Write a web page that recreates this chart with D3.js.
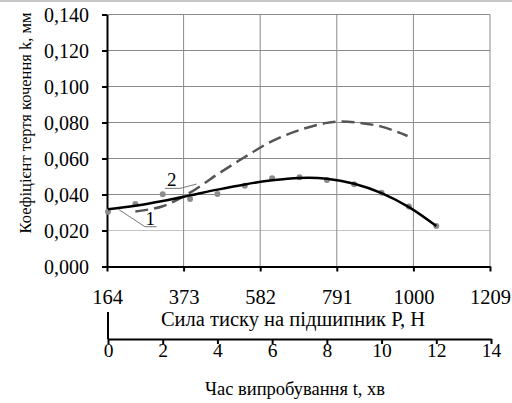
<!DOCTYPE html>
<html>
<head>
<meta charset="utf-8">
<script src="https://cdn.jsdelivr.net/npm/d3@7"></script>
<style>
  body { margin: 0; background: #fff; }
  svg { display: block; }
</style>
</head>
<body>
<script>
// data
const pTicks = [164, 373, 582, 791, 1000, 1209];
const tTicks = [0, 2, 4, 6, 8, 10, 12, 14];
const kTicks = [0, 0.02, 0.04, 0.06, 0.08, 0.10, 0.12, 0.14];

// measured points (time, min)
const pointT = [0, 1, 2, 3, 4, 5, 6, 7, 8, 9, 10, 11, 12];
const pointK = [0.0304, 0.0347, 0.0401, 0.0375, 0.0403, 0.0449, 0.0490, 0.0496, 0.0480, 0.0457, 0.0410, 0.0334, 0.0225];

// curve 1 (solid)
const curve1T = [0, 1, 2, 3, 4, 5, 6, 7, 8, 9, 10, 11, 12];
const curve1K = [0.0318, 0.0337, 0.0364, 0.0395, 0.0427, 0.0456, 0.0479, 0.0492, 0.0488, 0.0460, 0.0408, 0.0330, 0.0225];

// curve 2 (dashed)
const curve2T = [1, 2, 3, 4, 5, 6, 7, 8, 8.5, 9, 10, 10.95];
const curve2K = [0.0305, 0.0335, 0.0410, 0.0512, 0.0608, 0.0697, 0.0758, 0.0798, 0.0805, 0.0801, 0.0777, 0.0725];

const labelText = ["1", "2"];
const yTitle = "Коефіцієнт тертя кочення k, мм";
const pTitle = "Сила тиску на підшипник Р, Н";
const tTitle = "Час випробування t, хв";

const width = 512, height = 403;
const serif = "Liberation Serif";

const svg = d3.select("body").append("svg")
  .attr("width", width).attr("height", height)
  .attr("font-family", serif);

// thin grey strip along the top edge
svg.append("rect").attr("x", 0).attr("y", 0).attr("width", width).attr("height", 2).attr("fill", "#c8c8c8");

const xP = d3.scaleLinear().domain([164, 1209]).range([107, 490]);
const xT = d3.scaleLinear().domain([0, 14]).range([108, 491]);
const y = d3.scaleLinear().domain([0, 0.14]).range([266.5, 14.5]);

const loc = d3.formatLocale({ decimal: ",", thousands: " ", grouping: [3], currency: ["", ""] });
const fmt = loc.format(".3f");

// grid
svg.append("g").selectAll("line")
  .data(kTicks.slice(1))
  .join("line")
  .attr("x1", xP.range()[0]).attr("x2", xP.range()[1])
  .attr("y1", d => y(d)).attr("y2", d => y(d))
  .attr("stroke", d => d === 0.02 ? "#c4c4c4" : "#8a8a8a")
  .attr("stroke-width", 1);

svg.append("g").selectAll("line")
  .data(pTicks.slice(1))
  .join("line")
  .attr("x1", d => xP(d)).attr("x2", d => xP(d))
  .attr("y1", y.range()[1]).attr("y2", y.range()[0])
  .attr("stroke", "#8a8a8a")
  .attr("stroke-width", 1);

// axes
const yAxis = svg.append("g")
  .attr("transform", `translate(${xP.range()[0]},0)`)
  .call(d3.axisLeft(y).tickValues(kTicks).tickSize(5).tickSizeOuter(0).tickPadding(13).tickFormat(fmt))
  .attr("font-size", 20);
yAxis.selectAll("text").attr("dy", "0.34em");

const pAxis = svg.append("g")
  .attr("transform", `translate(0,${y.range()[0]})`)
  .call(d3.axisBottom(xP).tickValues(pTicks).tickSize(5).tickSizeOuter(0).tickFormat(d3.format("d")))
  .attr("font-size", 20.5);
pAxis.selectAll("text").attr("y", 37.5).attr("dy", null);

const tAxisY = 339;
const tAxis = svg.append("g")
  .attr("transform", `translate(0,${tAxisY})`)
  .call(d3.axisBottom(xT).tickValues(tTicks).tickSize(5).tickSizeOuter(0).tickFormat(d3.format("d")))
  .attr("font-size", 19.5);
tAxis.selectAll("text").attr("y", 18).attr("dy", null);
tAxis.append("line")
  .attr("x1", xT(0)).attr("x2", xT(0))
  .attr("y1", -27).attr("y2", 0)
  .attr("stroke", "#000").attr("stroke-width", 2);

[yAxis, pAxis, tAxis].forEach(g => {
  g.attr("font-family", serif);
  g.select(".domain").attr("stroke", "#000").attr("stroke-width", 2);
  g.selectAll(".tick line").attr("stroke", "#000").attr("stroke-width", 2);
  g.selectAll("text").attr("fill", "#000");
});

// titles
svg.append("text")
  .attr("transform", "translate(31,123) rotate(-90)")
  .attr("text-anchor", "middle")
  .attr("font-size", 16.5)
  .text(yTitle);

svg.append("text")
  .attr("x", 293).attr("y", 326)
  .attr("text-anchor", "middle")
  .attr("font-size", 20.5)
  .text(pTitle);

svg.append("text")
  .attr("x", 295).attr("y", 395)
  .attr("text-anchor", "middle")
  .attr("font-size", 18.5)
  .text(tTitle);

// curves
const line = d3.line().curve(d3.curveCatmullRom.alpha(0.5))
  .x(d => xT(d[0])).y(d => y(d[1]));

svg.append("path")
  .attr("d", line(d3.zip(curve2T, curve2K)))
  .attr("fill", "none")
  .attr("stroke", "#555")
  .attr("stroke-width", 2.5)
  .attr("stroke-dasharray", "13,6");

svg.append("g").selectAll("circle")
  .data(d3.zip(pointT, pointK))
  .join("circle")
  .attr("cx", d => xT(d[0])).attr("cy", d => y(d[1]))
  .attr("r", 3)
  .attr("fill", "#8c8c8c");

svg.append("path")
  .attr("d", line(d3.zip(curve1T, curve1K)))
  .attr("fill", "none")
  .attr("stroke", "#000")
  .attr("stroke-width", 2.5);

// curve labels with leaders (in data units)
const leaders = [
  { text: labelText[0], at: [1.54, 0.0232], path: [[0.38, 0.0318], [1.35, 0.0221], [1.78, 0.0221]] },
  { text: labelText[1], at: [2.33, 0.0446], path: [[2.08, 0.0434], [2.63, 0.0434], [3.24, 0.0458]] }
];
const leaderLine = d3.line().x(d => xT(d[0])).y(d => y(d[1]));
leaders.forEach(l => {
  svg.append("path")
    .attr("d", leaderLine(l.path))
    .attr("fill", "none")
    .attr("stroke", "#777")
    .attr("stroke-width", 1);
  svg.append("text")
    .attr("x", xT(l.at[0])).attr("y", y(l.at[1]))
    .attr("text-anchor", "middle")
    .attr("font-size", 19)
    .text(l.text);
});
</script>
</body>
</html>
